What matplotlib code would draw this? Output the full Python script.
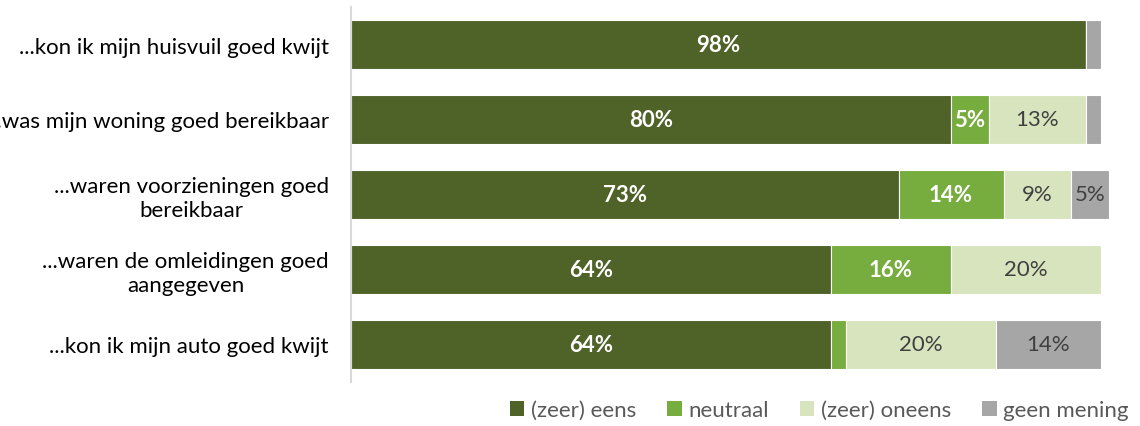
import matplotlib.pyplot as plt
import numpy as np

plt.rcParams['font.family'] = ['Lato', 'DejaVu Sans']

categories = [
    '...kon ik mijn huisvuil goed kwijt',
    '...was mijn woning goed bereikbaar',
    '...waren voorzieningen goed\nbereikbaar',
    '...waren de omleidingen goed\naangegeven',
    '...kon ik mijn auto goed kwijt',
]
series = ['(zeer) eens', 'neutraal', '(zeer) oneens', 'geen mening']
eens = [98, 80, 73, 64, 64]
neutraal = [0, 5, 14, 16, 2]
oneens = [0, 13, 9, 20, 20]
geen = [2, 2, 5, 0, 14]

colors = ['#4F6228', '#77AC3E', '#D8E4BE', '#A6A6A6']
text_colors = ['white', 'white', '#404040', '#404040']
weights = ['bold', 'bold', 'normal', 'normal']

fig = plt.figure(figsize=(11.4, 4.27), dpi=100)
ax = fig.add_axes([351 / 1140, 44 / 427, 750 / 1140, 375 / 427])

y = np.arange(len(categories))
left = np.zeros(len(categories))
for name, vals, col, tc, w in zip(series, [eens, neutraal, oneens, geen], colors, text_colors, weights):
    vals = np.array(vals, dtype=float)
    bars = ax.barh(y, vals, left=left, height=0.655, color=col, edgecolor='white',
                   linewidth=0.8, label=name, clip_on=False)
    for rect, v in zip(bars, vals):
        if v > 2:
            ax.text(rect.get_x() + rect.get_width() / 2, rect.get_y() + rect.get_height() / 2,
                    f'{v:.0f}%', ha='center', va='center', color=tc, fontsize=16, fontweight=w)
    left += vals

ax.set_xlim(0, 100)
ax.set_ylim(len(categories) - 0.5, -0.5)
ax.set_yticks(y)
ax.set_yticklabels(categories, fontsize=16, ha='right', multialignment='center')
ax.tick_params(axis='y', length=0, pad=16)
ax.set_xticks([])
for s in ['top', 'right', 'bottom']:
    ax.spines[s].set_visible(False)
ax.spines['left'].set_color('#D9D9D9')
ax.spines['left'].set_linewidth(1.5)

# legend sits under the bars, flush with the right edge
leg = fig.legend(loc='lower right', bbox_to_anchor=(1.002, -0.018), ncol=4, frameon=False,
                 fontsize=16, handlelength=0.65, handleheight=0.65, handletextpad=0.3,
                 columnspacing=1.4, labelcolor='#595959', borderaxespad=0.2)
for h in leg.legend_handles:
    h.set_edgecolor('none')

fig.savefig('out.png', dpi=100)
